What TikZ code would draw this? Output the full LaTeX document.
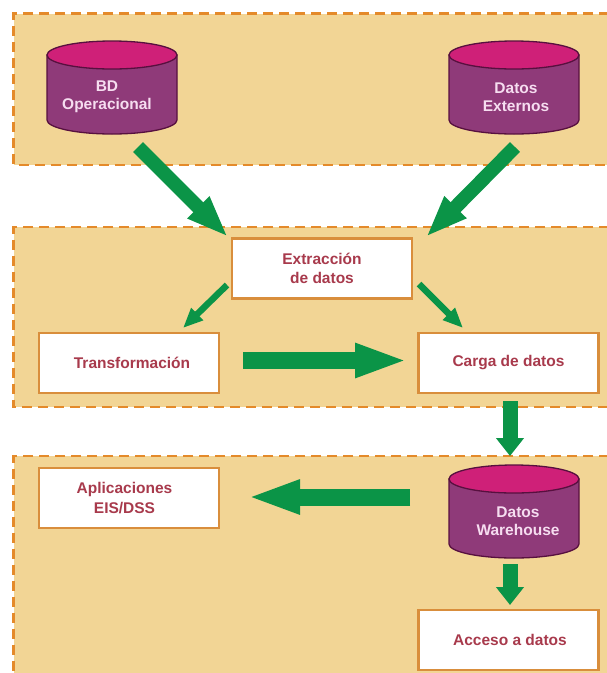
\documentclass[tikz,border=0pt]{standalone}
\usepackage{fontspec}
\setmainfont{Liberation Sans}
\usetikzlibrary{arrows.meta}
\definecolor{bandfill}{HTML}{F2D595}
\definecolor{banddash}{HTML}{E48A2A}
\definecolor{boxline}{HTML}{D98E3C}
\definecolor{cylbody}{HTML}{8F3A79}
\definecolor{cyltop}{HTML}{CF2078}
\definecolor{cylline}{HTML}{57103F}
\definecolor{cyltext}{HTML}{F6DDF0}
\definecolor{flowgreen}{HTML}{0B9447}
\definecolor{boxtext}{HTML}{A83A4C}
\tikzset{
  x=1pt,y=-1pt,
  band/.style={fill=bandfill,draw=banddash,line width=2.4pt,dash pattern=on 10pt off 6pt},
  procbox/.style={draw=boxline,fill=white,line width=2.8pt,minimum width=180pt,minimum height=60pt,inner sep=0pt,
    font=\bfseries\fontsize{15.5}{19.5}\selectfont,text=boxtext,align=center},
  cyllabel/.style={inner sep=0pt,font=\bfseries\fontsize{15.5}{18.5}\selectfont,text=cyltext,align=center},
  bigarrow/.style={draw=flowgreen,line width=14pt,-{Triangle[length=42pt,width=28pt]}},
  hbararrow/.style={draw=flowgreen,line width=17pt,-{Triangle[length=53pt,width=31pt]}},
  vertarrow/.style={draw=flowgreen,line width=15pt,-{Triangle[length=18pt,width=27pt]}},
  smallarrow/.style={draw=flowgreen,line width=6.5pt,-{Triangle[length=20pt,width=16pt]}},
}
\newcommand{\dbcyl}[5]{% name, left x, top y, text x offset, text
  \draw[fill=cylbody,draw=cylline,line width=1.3pt]
    (#2,#3+14) -- (#2,#3+79) arc[start angle=180,end angle=0,x radius=65,y radius=14]
    -- (#2+130,#3+14) -- cycle;
  \draw[fill=cyltop,draw=cylline,line width=1.3pt] (#2+65,#3+14) ellipse[x radius=65,y radius=14];
  \node[cyllabel] (#1) at (#2+65+#4,#3+56) {#5};
}
\begin{document}
\begin{tikzpicture}
\useasboundingbox (0,0) rectangle (606,673);
\fill[white] (0,0) rectangle (606,673);
\draw[band] (625,13.5) -- (13.5,13.5) -- (13.5,165) -- (625,165);
\draw[band] (625,227) -- (13.5,227) -- (13.5,407) -- (625,407);
\draw[band] (625,456) -- (13.5,456) -- (13.5,690) -- (625,690);

\dbcyl{bd}{47}{41}{-5}{BD\\Operacional}
\dbcyl{ext}{449}{41}{2}{Datos\\Externos}
\dbcyl{wh}{449}{465}{4}{Datos\\Warehouse}

\node[procbox] (ex) at (322,268.5) {Extracción\\de datos};
\node[procbox] (tr) at (129,363) {\kern6pt Transformación};
\node[procbox] (ca) at (508.5,363) {Carga de datos};
\node[procbox] (ap) at (129,498) {\raisebox{-3pt}{Aplicaciones\kern9pt}\\\raisebox{-3pt}{EIS/DSS\kern9pt}};
\node[procbox] (ac) at (508.5,640) {\kern3pt Acceso a datos};

\coordinate (a1s) at (138,147);
\coordinate (a1e) at (228,237);
\coordinate (a2s) at (515,147);
\coordinate (a2e) at (426,237);
\coordinate (a3s) at (227,285);
\coordinate (a3e) at (183,328);
\coordinate (a4s) at (419,284);
\coordinate (a4e) at (463,328);
\coordinate (a5s) at (243,360.5);
\coordinate (a5e) at (408,360.5);
\coordinate (a6s) at (510,401);
\coordinate (a6e) at (510,456);
\coordinate (a7s) at (410,497);
\coordinate (a7e) at (247,497);
\coordinate (a8s) at (510,564);
\coordinate (a8e) at (510,605);

\draw[bigarrow] (a1s) -- (a1e);
\draw[bigarrow] (a2s) -- (a2e);
\draw[smallarrow] (a3s) -- (a3e);
\draw[smallarrow] (a4s) -- (a4e);
\draw[hbararrow] (a5s) -- (a5e);
\draw[vertarrow] (a6s) -- (a6e);
\draw[hbararrow] (a7s) -- (a7e);
\draw[vertarrow] (a8s) -- (a8e);
\end{tikzpicture}
\end{document}
